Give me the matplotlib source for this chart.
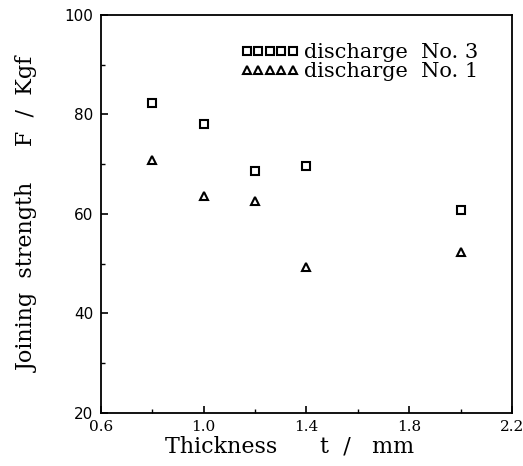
import matplotlib
matplotlib.use('Agg')
import matplotlib.pyplot as plt
from matplotlib.ticker import MultipleLocator

# 读图得到的数据
thickness = [0.8, 1.0, 1.2, 1.4, 2.0]
strength_no3 = [82.2, 78.1, 68.7, 69.7, 60.7]
strength_no1 = [70.8, 63.5, 62.5, 49.4, 52.4]
xticks = [0.6, 1.0, 1.4, 1.8, 2.2]
xtick_labels = ['0.6', '1.0', '1.4', '1.8', '2.2']
yticks = [20, 40, 60, 80, 100]

serif = 'DejaVu Serif'
sans = 'DejaVu Sans'

fig = plt.figure(figsize=(5.23, 4.66), dpi=100)
ax = fig.add_axes([0.193, 0.114, 0.786, 0.854])

ax.plot(thickness, strength_no3, linestyle='none', marker='s', markersize=6.2,
        markerfacecolor='white', markeredgecolor='black', markeredgewidth=1.5,
        label='discharge  No. 3')
ax.plot(thickness, strength_no1, linestyle='none', marker='^', markersize=6.2,
        markerfacecolor='white', markeredgecolor='black', markeredgewidth=1.5,
        label='discharge  No. 1')

ax.set_xlim(0.6, 2.2)
ax.set_ylim(20, 100)
ax.set_xticks(xticks)
ax.set_xticklabels(xtick_labels, family=serif, fontsize=11)
ax.set_yticks(yticks)
ax.set_yticklabels([str(v) for v in yticks], family=sans, fontsize=11)
ax.xaxis.set_minor_locator(MultipleLocator(0.2))
ax.yaxis.set_minor_locator(MultipleLocator(10))
ax.tick_params(which='major', direction='in', length=5, width=1.2)
ax.tick_params(axis='x', which='major', pad=5)
ax.tick_params(axis='y', which='major', pad=5.5)
ax.tick_params(which='minor', direction='in', length=3, width=1)
for s in ax.spines.values():
    s.set_linewidth(1.3)

ax.set_xlabel('Thickness      t  /   mm', family=serif, fontsize=16)
ax.xaxis.set_label_coords(0.46, -0.056)
ax.set_ylabel('Joining  strength     F  /  Kgf', family=serif, fontsize=16)
ax.yaxis.set_label_coords(-0.15, 0.5)

leg = ax.legend(loc='center left', bbox_to_anchor=(0.34, 0.882), numpoints=5,
                frameon=False, handlelength=2.8, handletextpad=0.25,
                labelspacing=0.0, borderpad=0, borderaxespad=0,
                markerscale=0.85, prop={'family': serif, 'size': 15})

fig.savefig('out.png', dpi=100)
